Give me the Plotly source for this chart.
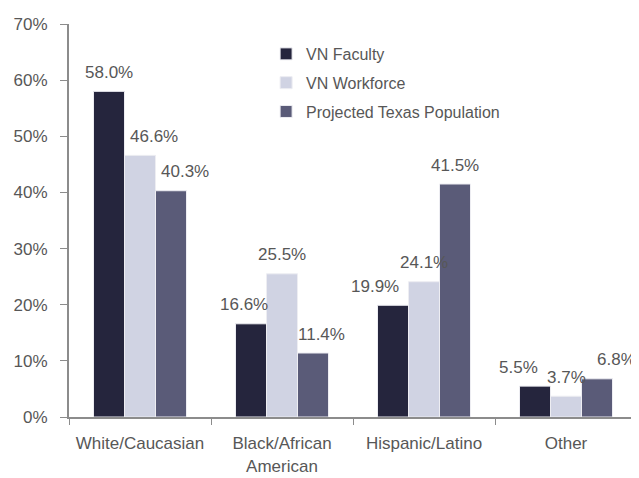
import plotly.graph_objects as go

categories = ["White/Caucasian", "Black/African<br>American", "Hispanic/Latino", "Other"]
series_names = ["VN Faculty", "VN Workforce", "Projected Texas Population"]
vn_faculty = [58.0, 16.6, 19.9, 5.5]
vn_workforce = [46.6, 25.5, 24.1, 3.7]
texas_population = [40.3, 11.4, 41.5, 6.8]
y_ticks = [0, 10, 20, 30, 40, 50, 60, 70]
y_tick_labels = [f"{v}%" for v in y_ticks]

series_values = [vn_faculty, vn_workforce, texas_population]
colors = ["#25253D", "#D0D3E3", "#5A5B78"]
# small horizontal nudges of value labels (px), per series, per category
label_nudge = [
    [0, -7, -18, -17],
    [14, 0, 0, 0],
    [14, 8, 0, 19],
]

FONT = "Liberation Sans, Arial, sans-serif"
TEXT = "#575757"
bargap = 0.345

fig = go.Figure()
for name, vals, col in zip(series_names, series_values, colors):
    fig.add_trace(go.Bar(
        name=name, x=categories, y=vals,
        legendgroup=name,
        marker=dict(color=col, line=dict(color="#EDEDF2", width=1)),
    ))

w = (1 - bargap) / 3
annotations = []
for j, vals in enumerate(series_values):
    for i, v in enumerate(vals):
        annotations.append(dict(
            x=i + (j - 1) * w, y=v, xref="x", yref="y",
            text=f"{v:.1f}%", showarrow=False,
            xanchor="center", yanchor="middle", yshift=19,
            xshift=label_nudge[j][i],
            font=dict(family=FONT, size=17, color=TEXT),
        ))

# page body has an 8px default margin, so the figure is sized to fit the window
fig.update_layout(
    width=631, height=470,
    margin=dict(l=61, r=2, t=16, b=61),
    plot_bgcolor="white", paper_bgcolor="white",
    barmode="group", bargap=bargap, bargroupgap=0,
    font=dict(family=FONT, color=TEXT, size=17),
    showlegend=True,
    legend=dict(x=0.347, y=0.967, xanchor="left", yanchor="top",
                font=dict(family=FONT, size=16, color=TEXT),
                bgcolor="rgba(0,0,0,0)", itemwidth=30,
                traceorder="grouped", tracegroupgap=5),
    annotations=annotations,
    xaxis=dict(
        type="category", tickson="boundaries",
        range=[-0.5, len(categories) - 0.5], automargin=False,
        showline=True, linecolor="#8C8C8C", linewidth=2,
        ticks="outside", ticklen=6, tickcolor="#8C8C8C", tickwidth=1,
        showgrid=False, zeroline=False, ticklabelstandoff=10,
        tickfont=dict(family=FONT, size=17, color=TEXT),
    ),
    yaxis=dict(
        range=[0, 70], tickmode="array", tickvals=y_ticks, ticktext=y_tick_labels,
        automargin=False,
        showline=True, linecolor="#8C8C8C", linewidth=2,
        ticks="outside", ticklen=7, tickcolor="#8C8C8C", tickwidth=1,
        showgrid=False, zeroline=False, ticklabelstandoff=9,
        tickfont=dict(family=FONT, size=17, color=TEXT),
    ),
)

fig.write_html("out.html")
